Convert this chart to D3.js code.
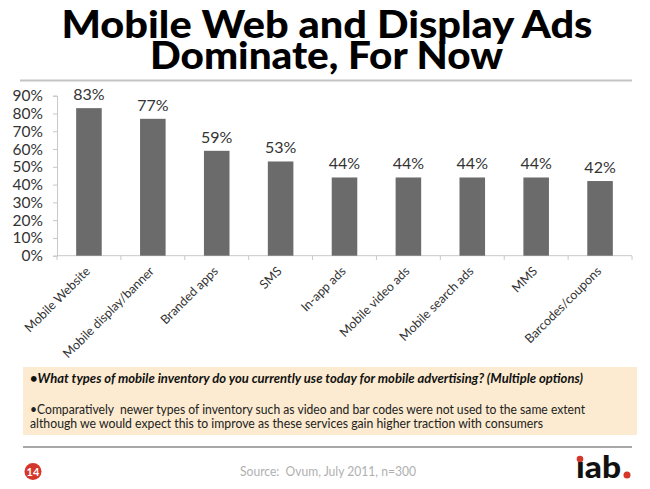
<!DOCTYPE html>
<html><head><meta charset="utf-8">
<script src="https://cdn.jsdelivr.net/npm/d3@7"></script>
<style>html,body{margin:0;padding:0;background:#fff;}svg{display:block;}</style>
</head><body>
<svg id="c" width="650" height="489"></svg>
<script>
const categories = ["Mobile Website","Mobile display/banner","Branded apps","SMS","In-app ads","Mobile video ads","Mobile search ads","MMS","Barcodes/coupons"];
const values = [0.83,0.77,0.59,0.53,0.44,0.44,0.44,0.44,0.42];
const yTicks = [0,0.1,0.2,0.3,0.4,0.5,0.6,0.7,0.8,0.9];
const titleLines = ["Mobile Web and Display Ads","Dominate, For Now"];
const noteLines = ["•What types of mobile inventory do you currently use today for mobile advertising? (Multiple options)",
  "•Comparatively  newer types of inventory such as video and bar codes were not used to the same extent",
  "although we would expect this to improve as these services gain higher traction with consumers"];
const sourceText = "Source:  Ovum, July 2011, n=300";
const pageNum = "14";

const svg = d3.select("#c");
const F = "Lato, 'Open Sans', sans-serif";

// Title
svg.append("text").attr("x",327).attr("y",38).attr("text-anchor","middle")
  .attr("font-family",F).attr("font-weight",900).attr("font-size",37)
  .attr("textLength",531).attr("lengthAdjust","spacingAndGlyphs").attr("fill","#000").text(titleLines[0]);
svg.append("text").attr("x",326.5).attr("y",69).attr("text-anchor","middle")
  .attr("font-family",F).attr("font-weight",900).attr("font-size",37)
  .attr("textLength",353).attr("lengthAdjust","spacingAndGlyphs").attr("fill","#000").text(titleLines[1]);
svg.append("line").attr("x1",20).attr("x2",632).attr("y1",80.5).attr("y2",80.5)
  .attr("stroke","#c4c4c4").attr("stroke-width",2);

// Scales
const x = d3.scaleBand().domain(categories).range([57,632]).paddingInner(0.6).paddingOuter(0.3);
const y = d3.scaleLinear().domain([0,0.9]).range([255.7,95.7]);

// Y axis
const yAxis = svg.append("g").attr("transform","translate(57,0)")
  .call(d3.axisLeft(y).tickValues(yTicks).tickFormat(d3.format(".0%")).tickSize(4).tickPadding(10));
yAxis.select(".domain").attr("stroke","#c8c8c8");
yAxis.selectAll(".tick line").attr("stroke","#c8c8c8");
yAxis.selectAll(".tick text").attr("font-family",F).attr("font-size",15.5).attr("fill","#333");

// X axis line with boundary ticks
svg.append("line").attr("x1",57).attr("x2",632).attr("y1",255.7).attr("y2",255.7).attr("stroke","#c8c8c8");
const bounds = d3.range(categories.length+1).map(i => x.range()[0] + i*x.step());
svg.selectAll(".xt").data(bounds).join("line").attr("class","xt")
  .attr("x1",d=>d).attr("x2",d=>d).attr("y1",255.7).attr("y2",260).attr("stroke","#c8c8c8");

// Bars
svg.selectAll(".bar").data(values).join("rect").attr("class","bar")
  .attr("x",(d,i)=>x(categories[i])).attr("width",x.bandwidth())
  .attr("y",d=>y(d)).attr("height",d=>y(0)-y(d)).attr("fill","#6b6b6b");
svg.selectAll(".vl").data(values).join("text").attr("class","vl")
  .attr("x",(d,i)=>x(categories[i])+x.bandwidth()/2).attr("y",d=>y(d)-8)
  .attr("text-anchor","middle").attr("font-family",F).attr("font-size",16).attr("fill","#333")
  .text(d=>d3.format(".0%")(d));

// Category labels
svg.selectAll(".cl").data(categories).join("text").attr("class","cl")
  .attr("transform",d=>`translate(${x(d)+x.bandwidth()/2+2},272) rotate(-45)`)
  .attr("text-anchor","end").attr("font-family",F).attr("font-size",12.5).attr("fill","#333").text(d=>d);

// Note box
svg.append("rect").attr("x",23).attr("y",367).attr("width",614).attr("height",68).attr("fill","#fcebd0");
svg.append("text").attr("x",30).attr("y",383).attr("font-family",F).attr("font-size",12.5)
  .attr("font-weight",700).attr("font-style","italic").attr("fill","#111")
  .attr("textLength",553).attr("lengthAdjust","spacingAndGlyphs").text(noteLines[0]);
svg.append("text").attr("x",30).attr("y",414).attr("font-family",F).attr("font-size",12.5).attr("fill","#222")
  .style("white-space","pre")
  .attr("textLength",555).attr("lengthAdjust","spacingAndGlyphs").text(noteLines[1]);
svg.append("text").attr("x",30).attr("y",428).attr("font-family",F).attr("font-size",12.5).attr("fill","#222")
  .attr("textLength",513).attr("lengthAdjust","spacingAndGlyphs").text(noteLines[2]);

// Bottom rule
svg.append("line").attr("x1",23).attr("x2",632).attr("y1",447).attr("y2",447)
  .attr("stroke","#a8a8a8").attr("stroke-width",2);

// Page number
svg.append("circle").attr("cx",33).attr("cy",471.5).attr("r",8.5).attr("fill","#d5372c");
svg.append("text").attr("x",33).attr("y",475.5).attr("text-anchor","middle").attr("font-family",F)
  .attr("font-weight",700).attr("font-size",11).attr("fill","#fff").text(pageNum);

// Source
svg.append("text").attr("x",328).attr("y",476).attr("text-anchor","middle").attr("font-family",F)
  .style("white-space","pre")
  .attr("font-size",13).attr("fill","#b0b0b0").attr("textLength",176).attr("lengthAdjust","spacingAndGlyphs").text(sourceText);

// iab logo
svg.append("text").attr("x",576).attr("y",478).attr("font-family",F).attr("font-weight",900)
  .attr("font-size",31).attr("fill","#111").attr("textLength",45).attr("lengthAdjust","spacingAndGlyphs").text("ıab");
svg.append("circle").attr("cx",580).attr("cy",459).attr("r",3.3).attr("fill","#d5372c");
svg.append("circle").attr("cx",627).attr("cy",475).attr("r",3.5).attr("fill","#d5372c");
</script>
</body></html>
